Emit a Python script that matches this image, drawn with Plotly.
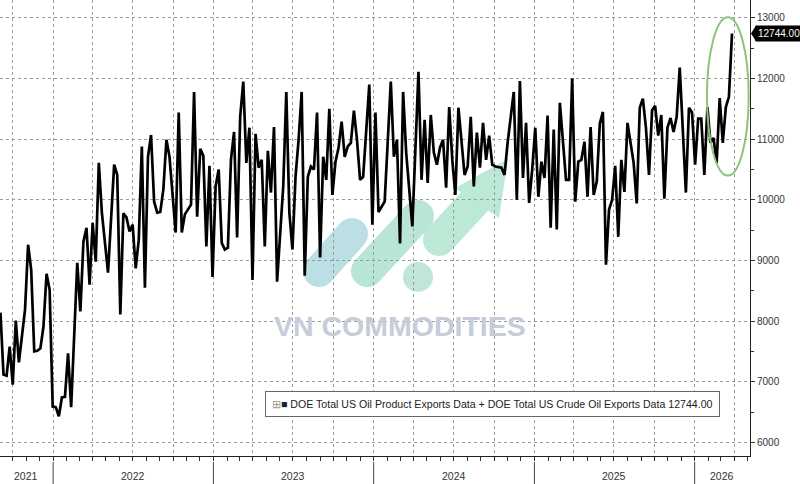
import base64
import pandas as pd
import plotly.graph_objects as go

# ---- data (weekly) ----
BASE_DATE = "2021-12-31"
week_offsets = [-17,-16,-15,-14,-13,-12,-11,-9,-8,-7,-6,-5,-4,-3,-2,-1,0,1,2,3,4,5,6,8,9,10,11,12,13,14,15,16,18,20,21,22,23,24,25,26,27,28,29,30,31,32,33,34,35,36,37,38,40,41,42,43,45,46,47,48,49,50,51,52,53,54,55,56,57,58,59,60,61,62,63,64,65,66,67,68,69,70,71,72,73,75,76,77,78,79,80,81,82,83,84,85,86,87,88,89,90,91,92,93,94,95,96,97,98,99,100,101,103,104,105,106,108,109,110,111,112,113,114,115,117,119,120,121,122,123,124,125,126,127,128,129,130,131,132,134,135,136,137,138,139,140,141,142,143,144,146,147,148,150,151,152,153,154,155,156,157,158,159,160,161,162,163,164,165,167,168,169,170,171,172,173,174,175,176,177,178,179,180,181,182,183,184,185,186,187,189,190,191,192,193,194,195,196,197,198,199,200,201,202,203,204,205,206,207,208,209,210,211,212,213,214,215,216,217,218,219,220,221]
exports = [8140,7120,7100,7580,6950,8010,7320,8190,9260,8850,7500,7510,7550,7910,8780,8520,6590,6580,6430,6740,6750,7470,6580,8960,8160,9310,9540,8600,9620,8980,10610,9790,8800,10580,10410,8110,9780,9710,9480,9590,8870,9340,10880,8550,10710,11070,9970,9790,9800,10170,10990,10710,9460,11440,9460,9760,9920,11780,9720,10840,10730,9230,10560,8730,10220,10500,9290,9180,9210,10660,11120,9380,11370,11950,10610,11190,8680,11090,10530,10660,9230,10810,10120,11200,8650,10220,11780,9790,9180,10380,10990,11780,8750,10380,10550,10500,11440,9050,10710,10330,11500,10080,10630,10860,11290,10710,10880,10940,11470,10990,10330,10380,11900,9590,11440,9800,9970,10940,11950,10710,10990,9280,11780,10780,9560,12110,10330,11320,10280,11400,10780,10580,10860,10990,10200,11530,10660,10080,11520,10410,10550,11370,10220,11110,10530,11270,10660,11060,10580,10550,10530,10410,10940,11780,10000,11960,10360,11270,9950,10500,11190,10050,10630,10360,11390,9540,11160,9510,11600,10330,10330,12000,9970,10630,10660,10960,10050,11200,10080,10300,11260,11450,8930,9840,10000,10560,9390,10660,10130,11270,10610,9940,11520,11670,11190,10410,11480,11550,11060,11400,10020,11190,11350,11120,11370,12180,11040,10120,11520,11440,10580,11340,11340,10410,11530,10940,11020,10610,11680,10940,11530,11700,12744]
year_labels = ["2021", "2022", "2023", "2024", "2025", "2026"]
year_label_dates = ["2021-11-01", "2022-07-02", "2023-07-02", "2024-07-02", "2025-07-02", "2026-03-05"]
year_starts = ["2022-01-01", "2023-01-01", "2024-01-01", "2025-01-01", "2026-01-01"]
y_ticks = [6000, 7000, 8000, 9000, 10000, 11000, 12000, 13000]
legend_text = "DOE Total US Oil Product Exports Data + DOE Total US Crude Oil Exports Data"
last_value = exports[-1]

dates = pd.Timestamp(BASE_DATE) + pd.to_timedelta([w * 7 for w in week_offsets], unit="D")

W, H = 800, 484
ML, MR, MT, MB = 0, 50, 0, 28
PW, PH = W - ML - MR, H - MT - MB

fig = go.Figure()
fig.add_trace(go.Scatter(x=dates, y=exports, mode="lines",
                         line=dict(color="#000000", width=2.7), showlegend=False,
                         hoverinfo="x+y"))

# watermark logo as inline SVG (figure pixel space)
svg = f'''<svg xmlns="http://www.w3.org/2000/svg" width="{W}" height="{H}" viewBox="0 0 {W} {H}">
<g stroke-linecap="round" fill="none" stroke-width="32">
<line x1="319" y1="271" x2="352" y2="234" stroke="#bcdfe4"/>
<line x1="367" y1="271" x2="418" y2="216" stroke="#b9e4d8"/>
<line x1="439" y1="240" x2="478" y2="198" stroke="#bce9d5"/>
</g>
<circle cx="418" cy="277" r="15" fill="#bfe6d9"/>
<polygon points="508,159 455,188 499,218" fill="#bce9d5"/>
</svg>'''
src = "data:image/svg+xml;base64," + base64.b64encode(svg.encode()).decode()
fig.add_layout_image(dict(source=src, xref="paper", yref="paper", x=-ML / PW, y=1 + MT / PH,
                          sizex=W / PW, sizey=H / PH, sizing="stretch",
                          xanchor="left", yanchor="top", layer="below", opacity=1))

fig.add_annotation(text="<b>VN COMMODITIES</b>", xref="paper", yref="paper",
                   x=400 / PW, y=(PH - 326) / PH, xanchor="center", yanchor="middle",
                   showarrow=False,
                   font=dict(family="Liberation Sans", size=28.5, color="#c6ccd9"))

# year separators & labels
for d in year_starts:
    fig.add_shape(type="line", xref="x", yref="paper", x0=d, x1=d,
                  y0=-6 / PH, y1=-28 / PH, line=dict(color="#444", width=1))
for lab, d in zip(year_labels, year_label_dates):
    fig.add_annotation(text=lab, xref="x", yref="paper", x=d, y=-20 / PH,
                       xanchor="center", yanchor="middle", showarrow=False,
                       font=dict(family="Liberation Sans", size=10.5, color="#333"))

# legend box
fig.add_annotation(
    text=f"<span style='color:#999'>⊞</span>■ {legend_text} {last_value:.2f}",
    xref="paper", yref="paper", x=492 / PW, y=(PH - 404) / PH,
    xanchor="center", yanchor="middle", showarrow=False,
    font=dict(family="Liberation Sans", size=10.6, color="#222"),
    bgcolor="#ffffff", bordercolor="#666", borderwidth=1, borderpad=6)

# green ellipse highlight
fig.add_shape(type="circle", xref="x", yref="y", x0="2026-01-29", x1="2026-05-04",
              y0=10400, y1=13010, line=dict(color="#8cc47c", width=2))

# last value tag with pointer
fig.add_shape(type="path", xref="paper", yref="y",
              path=f"M {751/PW} {last_value} L {756/PW} {last_value+130} L {756/PW} {last_value-130} Z",
              fillcolor="#000000", line=dict(width=0))
fig.add_annotation(text=f"{last_value:.2f}", xref="paper", yref="y", x=1, y=last_value,
                   xanchor="left", yanchor="middle", xshift=5, showarrow=False,
                   font=dict(family="Liberation Sans", size=10, color="#ffffff"),
                   bgcolor="#000000", borderpad=2)

fig.update_layout(
    width=W, height=H, margin=dict(l=ML, r=MR, t=MT, b=MB),
    paper_bgcolor="#ffffff", plot_bgcolor="#ffffff",
    xaxis=dict(range=["2021-09-02", "2026-05-07"], showticklabels=False,
               tick0="2021-10-01", dtick="M3", showgrid=True, gridcolor="#9a9a9a",
               griddash="dot", gridwidth=1, ticks="outside", ticklen=4, tickcolor="#333",
               minor=dict(dtick="M1", tick0="2021-10-01", ticks="outside", ticklen=4,
                          tickcolor="#333", showgrid=False),
               showline=True, linecolor="#222", linewidth=1, zeroline=False),
    yaxis=dict(side="right", range=[5775, 13296], tickvals=y_ticks, tickformat="d",
               tickfont=dict(family="Liberation Sans", size=10, color="#333"),
               showgrid=True, gridcolor="#9a9a9a", griddash="dot", gridwidth=1,
               ticks="outside", ticklen=4, tickcolor="#333",
               minor=dict(dtick=500, ticks="outside", ticklen=3, tickcolor="#333", showgrid=False),
               showline=True, linecolor="#222", linewidth=1, zeroline=False),
)

fig.write_html("out.html", config={"displayModeBar": False},
               post_script="document.body.style.margin='0';document.body.style.padding='0';")
